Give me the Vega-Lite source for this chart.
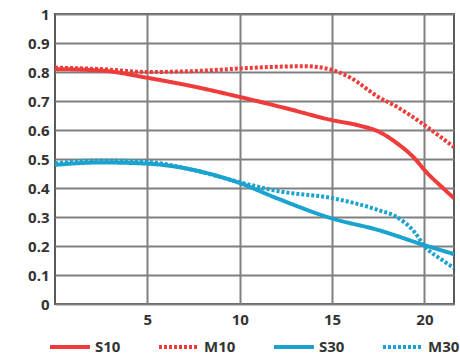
{
  "$schema": "https://vega.github.io/schema/vega-lite/v6.json",
  "width": 399,
  "height": 290,
  "autosize": {"type": "none"},
  "padding": {"left": 55, "top": 14, "right": 6, "bottom": 52},
  "background": "white",
  "config": {
    "view": {"stroke": "#5a5a5a", "strokeWidth": 2},
    "font": "Open Sans",
    "axis": {
      "grid": true,
      "gridColor": "#808080",
      "gridWidth": 2,
      "domain": false,
      "ticks": false,
      "labelFont": "Open Sans",
      "labelFontWeight": "bold",
      "labelFontSize": 15,
      "labelColor": "#333333",
      "title": null
    }
  },
  "data": {
    "values": [
      {"x": 0, "y": 0.81, "s": "S10"},
      {"x": 2.5, "y": 0.805, "s": "S10"},
      {"x": 5, "y": 0.78, "s": "S10"},
      {"x": 7.5, "y": 0.75, "s": "S10"},
      {"x": 10, "y": 0.714, "s": "S10"},
      {"x": 12.5, "y": 0.675, "s": "S10"},
      {"x": 15, "y": 0.634, "s": "S10"},
      {"x": 16.5, "y": 0.615, "s": "S10"},
      {"x": 17.5, "y": 0.595, "s": "S10"},
      {"x": 18.5, "y": 0.555, "s": "S10"},
      {"x": 19.5, "y": 0.5, "s": "S10"},
      {"x": 20, "y": 0.462, "s": "S10"},
      {"x": 21, "y": 0.4, "s": "S10"},
      {"x": 21.6, "y": 0.365, "s": "S10"},

      {"x": 0, "y": 0.815, "s": "M10"},
      {"x": 2.5, "y": 0.81, "s": "M10"},
      {"x": 5, "y": 0.8, "s": "M10"},
      {"x": 7.5, "y": 0.803, "s": "M10"},
      {"x": 10, "y": 0.812, "s": "M10"},
      {"x": 12, "y": 0.818, "s": "M10"},
      {"x": 13.5, "y": 0.82, "s": "M10"},
      {"x": 15, "y": 0.807, "s": "M10"},
      {"x": 16, "y": 0.78, "s": "M10"},
      {"x": 17.5, "y": 0.714, "s": "M10"},
      {"x": 18.5, "y": 0.68, "s": "M10"},
      {"x": 20, "y": 0.617, "s": "M10"},
      {"x": 21, "y": 0.57, "s": "M10"},
      {"x": 21.6, "y": 0.541, "s": "M10"},

      {"x": 0, "y": 0.48, "s": "S30"},
      {"x": 2.5, "y": 0.488, "s": "S30"},
      {"x": 5, "y": 0.484, "s": "S30"},
      {"x": 7.5, "y": 0.462, "s": "S30"},
      {"x": 10, "y": 0.417, "s": "S30"},
      {"x": 12, "y": 0.365, "s": "S30"},
      {"x": 15, "y": 0.295, "s": "S30"},
      {"x": 17.5, "y": 0.255, "s": "S30"},
      {"x": 20, "y": 0.203, "s": "S30"},
      {"x": 21.6, "y": 0.172, "s": "S30"},

      {"x": 0, "y": 0.485, "s": "M30"},
      {"x": 2.5, "y": 0.495, "s": "M30"},
      {"x": 5, "y": 0.49, "s": "M30"},
      {"x": 7.5, "y": 0.462, "s": "M30"},
      {"x": 10, "y": 0.42, "s": "M30"},
      {"x": 12, "y": 0.39, "s": "M30"},
      {"x": 15, "y": 0.365, "s": "M30"},
      {"x": 17.5, "y": 0.324, "s": "M30"},
      {"x": 18.5, "y": 0.3, "s": "M30"},
      {"x": 19.5, "y": 0.245, "s": "M30"},
      {"x": 20, "y": 0.2, "s": "M30"},
      {"x": 21, "y": 0.15, "s": "M30"},
      {"x": 21.6, "y": 0.124, "s": "M30"}
    ]
  },
  "mark": {"type": "line", "interpolate": "monotone", "strokeWidth": 4, "clip": true},
  "encoding": {
    "x": {
      "field": "x", "type": "quantitative",
      "scale": {"domain": [0, 21.6], "nice": false, "zero": false},
      "axis": {"values": [5, 10, 15, 20], "labelPadding": 8}
    },
    "y": {
      "field": "y", "type": "quantitative",
      "scale": {"domain": [0, 1], "nice": false},
      "axis": {"values": [0, 0.1, 0.2, 0.3, 0.4, 0.5, 0.6, 0.7, 0.8, 0.9, 1], "format": ".1~f", "labelPadding": 6}
    },
    "color": {
      "field": "s", "type": "nominal",
      "scale": {"domain": ["S10", "M10", "S30", "M30"], "range": ["#ef3b3a", "#ef3b3a", "#1aa3cf", "#1aa3cf"]},
      "legend": {
        "orient": "none",
        "legendX": -7,
        "legendY": 311,
        "direction": "horizontal",
        "columns": 4,
        "title": null,
        "symbolType": "stroke",
        "symbolSize": 1600,
        "symbolStrokeWidth": 4,
        "labelFont": "Open Sans",
        "labelFontWeight": "bold",
        "labelFontSize": 15,
        "labelColor": "#333333",
        "labelOffset": 3,
        "columnPadding": 30
      }
    },
    "strokeDash": {
      "field": "s", "type": "nominal",
      "scale": {"domain": ["S10", "M10", "S30", "M30"], "range": [[1, 0], [3, 2], [1, 0], [3, 2]]},
      "legend": {
        "orient": "none",
        "legendX": -7,
        "legendY": 311,
        "direction": "horizontal",
        "columns": 4,
        "title": null,
        "symbolType": "stroke",
        "symbolSize": 1600,
        "symbolStrokeWidth": 4,
        "labelFont": "Open Sans",
        "labelFontWeight": "bold",
        "labelFontSize": 15,
        "labelColor": "#333333",
        "labelOffset": 3,
        "columnPadding": 30
      }
    },
    "order": {"field": "x", "type": "quantitative"}
  }
}
